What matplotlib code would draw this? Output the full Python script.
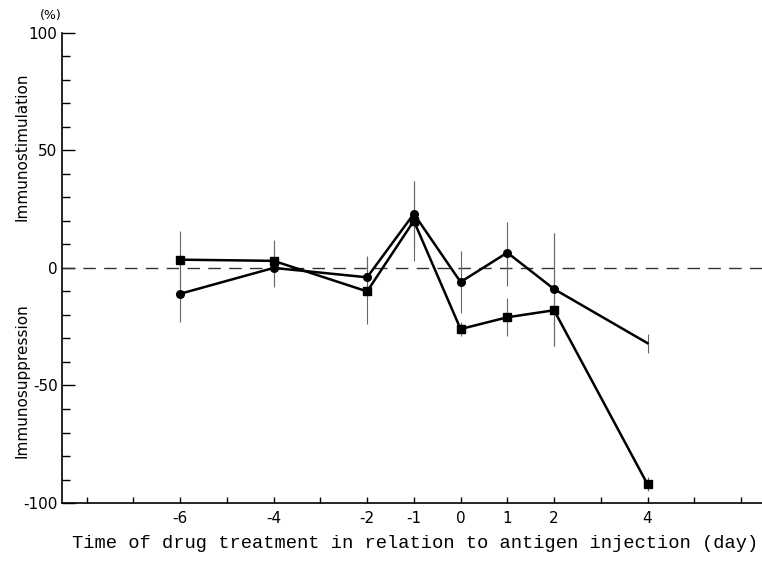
import matplotlib
matplotlib.use("Agg")
import matplotlib.pyplot as plt
import numpy as np

# days of drug treatment and their slot on the (non-linear) x axis
days = ['-6', '-4', '-2', '-1', '0', '1', '2', '4']
slots = [2, 4, 6, 7, 8, 9, 10, 12]
n_slots = 15

# circle series
circ = [-11, 0, -4, 23, -6, 6.5, -9, -32]
circ_lo = [12, 8, 9, 14, 13, 14, 24, 4]
circ_hi = [12, 8, 9, 14, 13, 13, 24, 4]

# square series
sq = [3.5, 3, -10, 20, -26, -21, -18, -92]
sq_lo = [12, 10, 14, 17, 3, 8, 15, 3]
sq_hi = [12, 9, 14, 17, 3, 8, 33, 3]

fig = plt.figure(figsize=(7.62, 5.64), dpi=100)
ax = fig.add_axes([0.081, 0.108, 0.919, 0.834])

ax.axhline(0, color='#333333', lw=1.0, dashes=(9, 6))

ax.errorbar(slots, circ, yerr=[circ_lo, circ_hi], fmt='none', ecolor='#666666',
            elinewidth=0.8, capsize=0)
ax.errorbar(slots, sq, yerr=[sq_lo, sq_hi], fmt='none', ecolor='#666666',
            elinewidth=0.8, capsize=0)

ax.plot(slots, circ, color='black', lw=1.8, marker='o', ms=5.5,
        markevery=list(range(len(slots) - 1)))
ax.plot(slots, sq, color='black', lw=1.8, marker='s', ms=5.5)

ax.set_xlim(-0.535, 14.45)
ax.set_ylim(-100, 100)

ticks = list(range(n_slots))
labels = [''] * n_slots
for s, d in zip(slots, days):
    labels[s] = d
ax.set_xticks(ticks)
ax.set_xticklabels(labels, fontsize=11)
ax.set_yticks([-100, -50, 0, 50, 100])
ax.set_yticklabels(['-100', '-50', '0', '50', '100'], fontsize=11)
ax.set_yticks(np.arange(-90, 100, 10), minor=True)
ax.tick_params(axis='y', which='major', direction='in', length=9, width=1, pad=3)
ax.tick_params(axis='y', which='minor', direction='in', length=6, width=1)
ax.tick_params(axis='x', which='major', direction='in', length=4, width=1, pad=6)

for side in ['top', 'right']:
    ax.spines[side].set_visible(False)
ax.spines['left'].set_linewidth(1.2)
ax.spines['bottom'].set_linewidth(1.2)

fig.text(0.066, 0.972, '(%)', fontsize=9, ha='center', va='center')
fig.text(0.029, 0.74, 'Immunostimulation', rotation=90, fontsize=11,
         ha='center', va='center')
fig.text(0.029, 0.325, 'Immunosuppression', rotation=90, fontsize=11,
         ha='center', va='center')
fig.text(0.545, 0.037, 'Time of drug treatment in relation to antigen injection (day)',
         fontsize=13.5, family='Liberation Mono', ha='center', va='center')

fig.savefig('out.png', dpi=100)
